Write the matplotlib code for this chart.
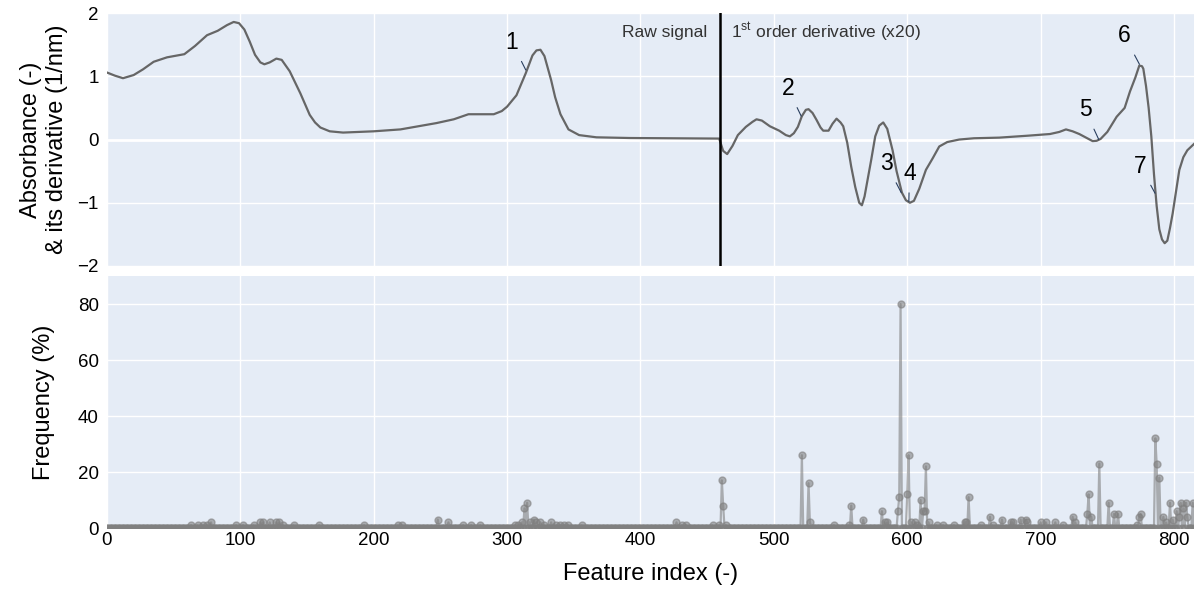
import numpy as np
import matplotlib
matplotlib.use('Agg')
import matplotlib.pyplot as plt

plt.rcParams['font.family'] = ['Liberation Sans', 'DejaVu Sans']
plt.rcParams['mathtext.fontset'] = 'custom'
plt.rcParams['mathtext.rm'] = 'Liberation Sans'

# top panel: raw signal (0-459) followed by 1st derivative x20 (460-815)
sig_x = [0, 6, 12, 20, 27, 35, 45, 58, 66, 75, 83, 90, 95, 99, 103, 107, 111, 115, 118,
         122, 127, 131, 137, 145, 152, 156, 160, 167, 177, 200, 220, 247, 260, 271, 280,
         290, 296, 300, 307, 314, 319, 322, 325, 328, 333, 336, 340, 346, 354, 367, 392,
         422, 459,
         460, 462, 465, 469, 473, 479, 484, 487, 491, 497, 504, 509, 512, 515, 518, 521,
         524, 526, 529, 532, 535, 537, 541, 544, 547, 550, 552, 555, 558, 561, 564, 566,
         568, 573, 576, 579, 582, 585, 589, 592, 596, 599, 602, 605, 609, 614, 619, 624,
         630, 639, 650, 669, 690, 707, 714, 719, 724, 729, 735, 739, 742, 745, 750, 757,
         763, 767, 771, 774, 776, 777, 779, 781, 783, 785, 787, 789, 791, 793, 795, 797,
         799, 802, 804, 807, 810, 815]
sig_y = [1.06, 1.01, 0.97, 1.02, 1.11, 1.23, 1.30, 1.35, 1.48, 1.65, 1.72, 1.81, 1.86, 1.84,
         1.74, 1.55, 1.34, 1.22, 1.19, 1.22, 1.28, 1.26, 1.08, 0.73, 0.39, 0.27, 0.19, 0.13,
         0.11, 0.13, 0.16, 0.26, 0.32, 0.40, 0.40, 0.40, 0.45, 0.52, 0.70, 1.05, 1.33, 1.41,
         1.42, 1.32, 0.94, 0.67, 0.40, 0.16, 0.07, 0.035, 0.024, 0.02, 0.015,
         -0.05, -0.18, -0.23, -0.10, 0.07, 0.20, 0.28, 0.32, 0.30, 0.21, 0.14, 0.07, 0.05,
         0.10, 0.20, 0.37, 0.47, 0.48, 0.42, 0.31, 0.19, 0.14, 0.14, 0.25, 0.33, 0.27, 0.21,
         -0.05, -0.43, -0.75, -1.0, -1.04, -0.9, -0.32, 0.05, 0.22, 0.27, 0.17, -0.17, -0.50,
         -0.84, -0.96, -1.0, -0.97, -0.78, -0.48, -0.30, -0.11, -0.04, 0.0, 0.02, 0.03, 0.06,
         0.087, 0.12, 0.16, 0.13, 0.087, 0.02, -0.025, -0.02, 0.01, 0.12, 0.36, 0.50, 0.76,
         0.98, 1.17, 1.16, 1.12, 0.85, 0.50, 0.05, -0.55, -1.05, -1.42, -1.58, -1.64, -1.60,
         -1.40, -1.17, -0.75, -0.48, -0.28, -0.17, -0.07]

# numbered annotations: label, point, text position
ann_labels = ['1', '2', '3', '4', '5', '6', '7']
ann_xy = [(314, 1.1), (520.5, 0.37), (595.5, -0.84), (601.2, -0.98),
          (743.6, 0.0), (774.1, 1.19), (785.8, -0.85)]
ann_text = [(303.5, 1.54), (510.5, 0.81), (584.2, -0.38), (601.7, -0.53),
            (733.3, 0.47), (762.8, 1.64), (774.8, -0.42)]

# bottom panel: selection frequency, non-zero features only
n_features = 816
freq_idx = [63, 68, 72, 75, 78, 97, 102, 110, 115, 117, 122, 127, 129, 132, 140, 159, 193,
            218, 221, 248, 256, 267, 273, 280, 306, 308, 311, 313, 315, 317, 320, 322, 325,
            328, 333, 337, 340, 343, 346, 356, 427, 431, 434, 454, 459, 461, 462, 464,
            521, 526, 527, 545, 556, 558, 567, 581, 583, 585, 593, 594, 595, 600, 601, 603,
            606, 607, 610, 612, 613, 614, 616, 622, 627, 635, 643, 644, 646, 655, 662, 664,
            671, 678, 679, 685, 689, 690, 700, 704, 711, 717, 724, 726, 735, 736, 738, 744,
            751, 755, 758, 772, 774, 775, 786, 787, 789, 792, 794, 797, 799, 802, 804, 805,
            807, 809, 810, 814]
freq_val = [1, 1, 1, 1, 2, 1, 1, 1, 2, 2, 2, 2, 2, 1, 1, 1, 1,
            1, 1, 3, 2, 1, 1, 1, 1, 1, 2, 7, 9, 2, 3, 2, 2,
            1, 2, 1, 1, 1, 1, 1, 2, 1, 1, 1, 1, 17, 8, 1,
            26, 16, 2, 1, 1, 8, 3, 6, 2, 2, 6, 11, 80, 12, 26, 2,
            2, 1, 10, 6, 6, 22, 2, 1, 1, 1, 2, 2, 11, 1, 4, 1,
            3, 2, 2, 3, 3, 2, 2, 2, 2, 1, 4, 2, 5, 12, 4, 23,
            9, 5, 5, 1, 4, 5, 32, 23, 18, 4, 2, 9, 3, 6, 4, 9,
            7, 9, 4, 9]

freq = np.zeros(n_features)
freq[freq_idx] = freq_val
feat = np.arange(n_features)

bg = '#E5ECF6'
fig = plt.figure(figsize=(11.94, 5.95), dpi=100)
ax1 = fig.add_axes([0.0896, 0.553, 0.9104, 0.425])
ax2 = fig.add_axes([0.0896, 0.1126, 0.9104, 0.4234], sharex=ax1)

for ax in (ax1, ax2):
    ax.set_facecolor(bg)
    ax.grid(True, color='white', lw=1)
    ax.set_axisbelow(True)
    for s in ax.spines.values():
        s.set_visible(False)
    ax.tick_params(length=0, labelsize=13.5, pad=6)

ax1.axhline(0, color='white', lw=2, zorder=0.5)
ax1.plot(sig_x, sig_y, color='#666666', lw=1.6)
ax1.axvline(459.5, color='black', lw=1.8)
ax1.text(450, 1.69, 'Raw signal', ha='right', va='center', fontsize=12.5, color='#333333')
ax1.text(468, 1.69, '1$^{\\rm st}$ order derivative (x20)', ha='left', va='center',
         fontsize=12.5, color='#333333')
for lab, xy, xt in zip(ann_labels, ann_xy, ann_text):
    ax1.annotate(lab, xy=xy, xytext=xt, ha='center', va='center', fontsize=16.5,
                 arrowprops=dict(arrowstyle='-', color='#2a3f5f', lw=0.8,
                                 shrinkA=4, shrinkB=0))
ax1.set_ylim(-2, 2)
ax1.set_yticks([-2, -1, 0, 1, 2])
ax1.set_ylabel('Absorbance (-)\n& its derivative (1/nm)', fontsize=17, linespacing=1.25)
ax1.yaxis.set_label_coords(-0.058, 0.5)
ax1.yaxis.label.set_va('center')
plt.setp(ax1.get_xticklabels(), visible=False)

ax2.plot(feat, freq, color='gray', alpha=0.6, lw=1.6, marker='o', ms=5)
ax2.set_ylim(0, 90)
ax2.set_yticks([0, 20, 40, 60, 80])
ax2.set_xlim(0, 815)
ax2.set_xticks(range(0, 900, 100))
ax2.set_ylabel('Frequency (%)', fontsize=17)
ax2.yaxis.set_label_coords(-0.058, 0.5)
ax2.yaxis.label.set_va('center')
ax2.set_xlabel('Feature index (-)', fontsize=17, labelpad=10)
ax2.tick_params(axis='x', pad=3)

fig.savefig('out.png', dpi=100, facecolor='white')
